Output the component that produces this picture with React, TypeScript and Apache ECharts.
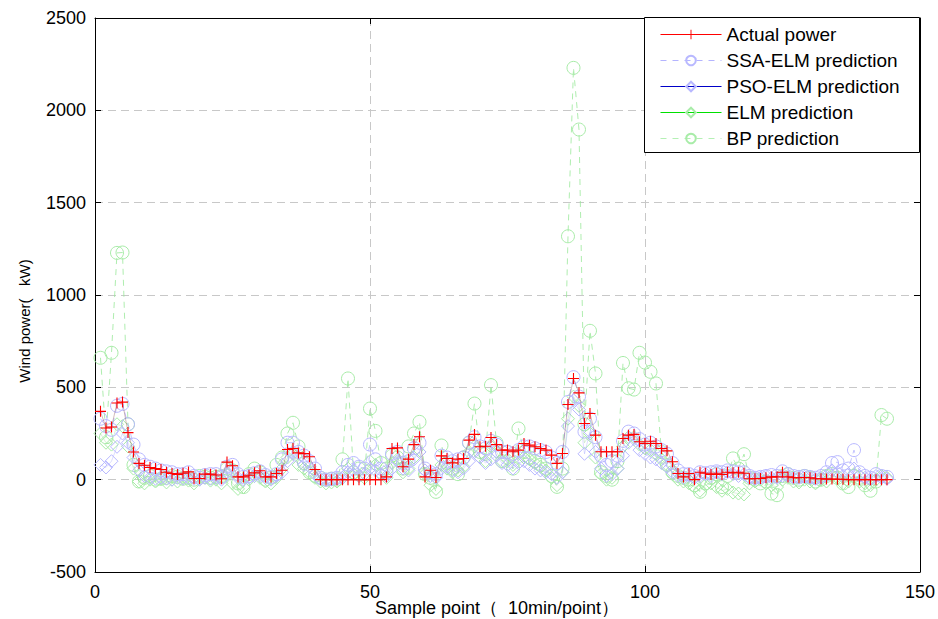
import React, { useEffect, useRef } from "react";
import * as echarts from "echarts";

const xTicks = [0, 50, 100, 150];
const yTicks = [-500, 0, 500, 1000, 1500, 2000, 2500];
const xTitle = "Sample point（  10min/point）";
const yTitle = "Wind power(   kW)";

const actualPower = [
  370, 280, 285, 415, 420, 255, 150, 88, 78, 66,
  60, 55, 40, 33, 28, 35, 42, 6, 6, 30,
  30, 25, 5, 95, 75, 15, 15, 24, 37, 48,
  15, 15, 33, 51, 163, 169, 145, 141, 124, 55,
  0, 0, 0, 0, 0, 0, 0, 0, 0, 0,
  0, 0, 15, 169, 172, 70, 111, 190, 232, 15,
  51, 12, 129, 115, 91, 111, 115, 214, 245, 178,
  181, 228, 190, 160, 160, 151, 160, 196, 187, 178,
  169, 160, 133, 88, 142, 407, 548, 470, 304, 358,
  241, 151, 151, 151, 151, 223, 241, 245, 205, 196,
  208, 196, 169, 156, 97, 33, 15, 33, 0, 40,
  35, 28, 35, 28, 40, 37, 40, 35, 5, 5,
  6, 10, 15, 15, 40, 15, 10, 10, 12, 10,
  5, 5, 3, 3, 2, 2, 0, 0, 0, 0,
  0, 0, 0, 0,
];

const ssaElm = [
  330, 290, 270, 400, 410, 300, 190, 110, 80, 70,
  60, 50, 45, 40, 30, 30, 40, 20, 10, 25,
  30, 30, 15, 70, 80, 30, 15, 20, 35, 45,
  25, 15, 30, 110, 200, 200, 150, 130, 100, 60,
  10, 0, 5, 10, 40, 80, 90, 70, 60, 190,
  110, 60, 40, 140, 150, 90, 100, 170, 200, 60,
  40, 30, 130, 120, 100, 110, 120, 200, 230, 180,
  170, 210, 190, 150, 150, 140, 160, 180, 180, 170,
  160, 150, 120, 90, 150, 421, 555, 450, 260, 330,
  230, 130, 80, 100, 130, 210, 260, 250, 220, 190,
  200, 180, 160, 140, 90, 50, 30, 30, 20, 40,
  35, 40, 45, 40, 50, 45, 40, 40, 20, 10,
  15, 20, 25, 20, 45, 30, 20, 15, 20, 15,
  10, 20, 40, 90, 95, 50, 60, 160, 40, 20,
  10, 30, 20, 15,
];

const psoElm = [
  80, 66, 100, 178, 250, 200, 120, 50, 20, 10,
  5, 10, 5, 0, 10, 5, 10, 5, 0, 10,
  5, 10, 0, 40, 50, 10, 0, 10, 20, 20,
  10, 0, 20, 40, 100, 150, 120, 80, 70, 30,
  5, 0, 0, 5, 10, 40, 50, 20, 30, 60,
  50, 30, 20, 60, 100, 60, 50, 110, 150, 50,
  20, 10, 60, 70, 50, 40, 60, 100, 150, 120,
  90, 110, 130, 90, 80, 60, 90, 100, 80, 60,
  50, 40, 30, 10, 40, 290, 430, 380, 140, 260,
  150, 60, 20, 30, 60, 130, 200, 220, 160, 140,
  120, 110, 90, 70, 40, 20, 10, 20, 10, 20,
  30, 20, 40, 30, 40, 30, 20, 30, 10, 5,
  10, 20, 10, 10, 20, 20, 10, 10, 15, 10,
  5, 10, 20, 50, 40, 20, 30, 60, 20, 10,
  5, 20, 10, 5,
];

const elm = [
  250, 200, 190, 300, 290, 180, 60, -10, -20, 0,
  -10, 5, -15, 0, -10, 10, -5, -20, 0, 10,
  -5, 0, -20, 30, -20, -50, -40, 0, 20, 10,
  -10, -20, 10, 60, 120, 140, 80, 60, 40, 10,
  -10, -20, -15, -10, 10, 60, 30, 20, 10, 100,
  80, 30, 10, 90, 110, 40, 60, 120, 150, 30,
  -30, -50, 80, 60, 40, 50, 70, 150, 180, 120,
  100, 180, 150, 100, 110, 80, 140, 120, 110, 90,
  70, 50, 10, -30, 40, 330, 450, 400, 200, 250,
  120, 30, 0, 10, 60, 180, 230, 230, 190, 170,
  160, 140, 110, 80, 30, 0, -10, -20, -40, -60,
  -30, -20, -40, -60, -50, -70, -75, -80, -20, -10,
  0, -20, -30, -40, 0, 10, -10, -15, 0, -10,
  -20, 0, -10, 20, 10, -20, -10, 30, -10, -20,
  -30, 0, 20, 10,
];

const bp = [
  660, 230, 687, 1228, 1230, 300, 80, -10, 10, 20,
  0, 5, 10, 20, 15, 5, 10, 0, 20, 15,
  10, 15, 20, 60, 50, -20, -40, 30, 60, 40,
  0, 10, 80, 120, 250, 308, 180, 90, 40, 20,
  10, 0, 5, 0, 110, 548, 40, 60, 30, 385,
  264, 90, 60, 130, 120, 60, 180, 250, 313, 30,
  10, -66, 185, 90, 60, 30, 120, 200, 412, 150,
  140, 512, 200, 100, 150, 60, 277, 150, 120, 100,
  80, 60, 20, -39, 60, 1318, 2230, 1896, 300, 806,
  575, 40, 20, 0, 100, 632, 495, 488, 687, 634,
  584, 521, 150, 80, 40, 20, 10, 0, -30, -66,
  -20, 10, 30, -40, 20, 115, 60, 138, 10, 0,
  -20, -10, -75, -84, 20, 30, 10, 0, 20, 10,
  -10, 0, 20, 30, 10, -20, -40, 20, 10, -30,
  -60, -10, 350, 330,
];

const seriesNames = [
  "Actual power",
  "SSA-ELM prediction",
  "PSO-ELM prediction",
  "ELM prediction",
  "BP prediction",
];

const toPoints = (arr: number[]) => arr.map((v, i) => [i + 1, v]);

const plusPath = "path://M4.5,0h1v10h-1z M0,4.5h10v1h-10z";

export default function App() {
  const ref = useRef<HTMLDivElement>(null);

  useEffect(() => {
    if (!ref.current) return;
    const chart = echarts.init(ref.current, undefined, { renderer: "svg" });
    const font = "'Liberation Sans', Arial, Helvetica, sans-serif";
    const axisCommon = {
      axisLine: { show: true, onZero: false, lineStyle: { color: "#000", width: 1 } },
      axisTick: { show: true, inside: true, length: 6, lineStyle: { color: "#000" } },
    };
    const option: any = {
      animation: false,
      backgroundColor: "#fff",
      grid: { left: 95, right: 17, top: 18, bottom: 47, containLabel: false },
      xAxis: [
        {
          type: "value",
          min: 0,
          max: 150,
          interval: 50,
          position: "bottom",
          ...axisCommon,
          axisLabel: {
            color: "#000",
            fontFamily: font,
            fontSize: 18,
            margin: 11,
            formatter: (v: number) => (xTicks.includes(v) ? String(v) : ""),
          },
          splitLine: { show: true, lineStyle: { color: "#c8c8c8", type: [8, 5], width: 1 } },
        },
        {
          type: "value",
          min: 0,
          max: 150,
          interval: 50,
          position: "top",
          ...axisCommon,
          axisLabel: { show: false },
          splitLine: { show: false },
        },
      ],
      yAxis: [
        {
          type: "value",
          min: -500,
          max: 2500,
          interval: 500,
          position: "left",
          ...axisCommon,
          axisLabel: {
            color: "#000",
            fontFamily: font,
            fontSize: 18,
            margin: 9,
            formatter: (v: number) => (yTicks.includes(v) ? String(v) : ""),
          },
          splitLine: { show: true, lineStyle: { color: "#c8c8c8", type: [8, 5], width: 1 } },
        },
        {
          type: "value",
          min: -500,
          max: 2500,
          interval: 500,
          position: "right",
          ...axisCommon,
          axisLabel: { show: false },
          splitLine: { show: false },
        },
      ],
      legend: {
        orient: "vertical",
        left: 655,
        top: 20,
        itemWidth: 61,
        itemHeight: 12,
        itemGap: 7,
        z: 30,
        selectedMode: false,
        textStyle: { color: "#000", fontFamily: font, fontSize: 19, lineHeight: 18 },
        data: [
          { name: seriesNames[0], lineStyle: { color: "#ff0000", width: 1, opacity: 1 } },
          { name: seriesNames[1], lineStyle: { color: "#b4b4ff", width: 1, type: [6, 6], opacity: 1 } },
          { name: seriesNames[2], lineStyle: { color: "#0000c8", width: 1, opacity: 1 } },
          { name: seriesNames[3], lineStyle: { color: "#00e000", width: 1, opacity: 1 } },
          { name: seriesNames[4], lineStyle: { color: "#b4f0b4", width: 1, type: [6, 6], opacity: 1 } },
        ],
      },
      graphic: [
        {
          type: "rect",
          z: 20,
          shape: { x: 644.5, y: 17.5, width: 275, height: 135 },
          style: { fill: "#fff", stroke: "#000", lineWidth: 1 },
        },
        {
          type: "text",
          x: 497,
          y: 608,
          z: 20,
          style: {
            text: xTitle,
            fill: "#000",
            font: `18px ${font}`,
            textAlign: "center",
            textVerticalAlign: "middle",
          },
        },
        {
          type: "text",
          x: 24,
          y: 321,
          rotation: Math.PI / 2,
          z: 20,
          style: {
            text: yTitle,
            fill: "#000",
            font: `15px ${font}`,
            textAlign: "center",
            textVerticalAlign: "middle",
          },
        },
      ],
      series: [
        {
          name: seriesNames[4],
          type: "line",
          data: toPoints(bp),
          symbol: "circle",
          symbolSize: 13,
          z: 2,
          itemStyle: { color: "transparent", borderColor: "#a8eca8", borderWidth: 1 },
          lineStyle: { color: "#9be89b", width: 1, type: [6, 5], opacity: 0.8 },
        },
        {
          name: seriesNames[3],
          type: "line",
          data: toPoints(elm),
          symbol: "diamond",
          symbolSize: 13,
          z: 3,
          itemStyle: { color: "transparent", borderColor: "#a8eca8", borderWidth: 1 },
          lineStyle: { color: "#30b030", width: 0.6, opacity: 0.3 },
        },
        {
          name: seriesNames[2],
          type: "line",
          data: toPoints(psoElm),
          symbol: "diamond",
          symbolSize: 13,
          z: 4,
          itemStyle: { color: "transparent", borderColor: "#b8b8ff", borderWidth: 1 },
          lineStyle: { color: "#4040ff", width: 0.6, opacity: 0.3 },
        },
        {
          name: seriesNames[1],
          type: "line",
          data: toPoints(ssaElm),
          symbol: "circle",
          symbolSize: 13,
          z: 5,
          itemStyle: { color: "transparent", borderColor: "#b8b8ff", borderWidth: 1 },
          lineStyle: { color: "#b4b4ff", width: 1, type: [6, 5], opacity: 0.8 },
        },
        {
          name: seriesNames[0],
          type: "line",
          data: toPoints(actualPower),
          symbol: plusPath,
          symbolSize: 11,
          z: 6,
          itemStyle: { color: "#ff0000" },
          lineStyle: { color: "#804040", width: 0.7, opacity: 0.5 },
        },
      ],
    };
    chart.setOption(option);
    return () => chart.dispose();
  }, []);

  return (
    <div
      ref={ref}
      style={{ position: "fixed", left: 0, top: 0, width: 938, height: 619, background: "#fff" }}
    />
  );
}
